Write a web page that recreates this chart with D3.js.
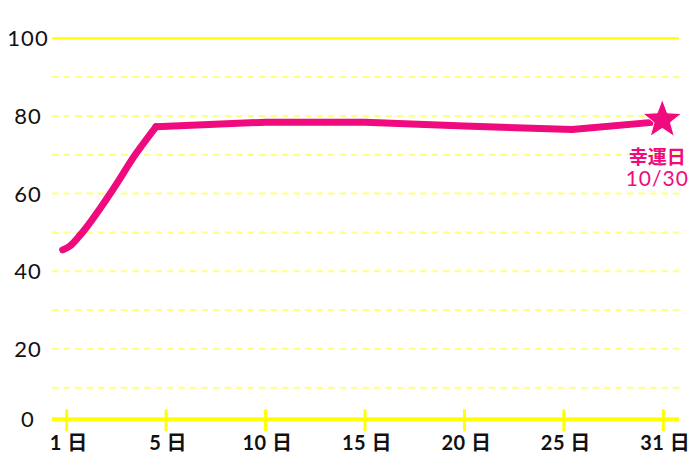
<!DOCTYPE html>
<html><head><meta charset="utf-8">
<script src="https://cdn.jsdelivr.net/npm/d3@7"></script>
<style>body{margin:0;background:#fff}svg{display:block}</style>
</head><body>
<script>
// data
const yTicks = [0,10,20,30,40,50,60,70,80,90,100];
const yLabels = [0,20,40,60,80,100];
const xTickDays = [1,5,10,15,20,25,31];
const xTickLabels = ["1 日","5 日","10 日","15 日","20 日","25 日","31 日"];
const riseDays   = [0.84, 1.13, 1.54, 2.78, 3.79, 4.59];
const riseValues = [45.5, 46.5, 49.3, 60.3, 70.3, 77.2];
const flatDays   = [4.59, 10, 15, 20, 25.5, 31];
const flatValues = [77.2, 78.4, 78.4, 77.4, 76.5, 78.6];
const luckyDay = 31, luckyValue = 79, luckyLabel = ["幸運日","10/30"];

const W=700,H=467;
const pink="#ef0a7d";
const svg=d3.select("body").append("svg").attr("width",W).attr("height",H);
const x=d3.scaleLinear().domain(xTickDays).range(xTickDays.map((d,i)=>66.7+i*99.43));
const y=d3.scaleLinear().domain([0,100]).range([426.5,38.3]);
const axisY = y(0)-7.2;
const font="Lato,'Noto Sans CJK JP',sans-serif";

// gridlines
svg.append("g").selectAll("line").data(yTicks.filter(d=>d>0)).join("line")
  .attr("x1",52).attr("x2",d=>d===100?679:681)
  .attr("y1",d=>y(d)).attr("y2",d=>y(d))
  .attr("stroke",d=>d===100?"#ffff00":"#ffff80")
  .attr("stroke-width",2)
  .attr("stroke-dasharray",d=>d===100?null:"6.5,5");

// x axis
svg.append("line").attr("x1",52).attr("x2",679).attr("y1",axisY).attr("y2",axisY)
  .attr("stroke","#ffff00").attr("stroke-width",4);
svg.append("g").selectAll("line").data(xTickDays).join("line")
  .attr("x1",d=>x(d)).attr("x2",d=>x(d)).attr("y1",axisY-10).attr("y2",axisY+12)
  .attr("stroke","#ffff00").attr("stroke-width",3);
svg.append("g").selectAll("text").data(xTickDays).join("text")
  .attr("x",(d,i)=>x(d)+2).attr("y",axisY+31)
  .attr("text-anchor","middle").attr("font-family",font).attr("font-size",20).attr("font-weight",700)
  .attr("letter-spacing",0.5)
  .attr("fill","#111").text((d,i)=>xTickLabels[i]);

// y labels
svg.append("g").selectAll("text").data(yLabels).join("text")
  .attr("x",28).attr("y",d=>d===0?axisY:y(d)).attr("dy","0.36em")
  .attr("text-anchor","middle").attr("font-family",font).attr("font-size",22)
  .attr("letter-spacing",1)
  .attr("fill","#111").text(d=>d);

// line
const lineStyle=p=>p.attr("fill","none").attr("stroke",pink).attr("stroke-width",7)
  .attr("stroke-linecap","round").attr("stroke-linejoin","round");
svg.append("path").datum(riseDays.map((d,i)=>[d,riseValues[i]]))
  .attr("d",d3.line().x(d=>x(d[0])).y(d=>y(d[1])).curve(d3.curveMonotoneX)).call(lineStyle);
svg.append("path").datum(flatDays.map((d,i)=>[d,flatValues[i]]))
  .attr("d",d3.line().x(d=>x(d[0])).y(d=>y(d[1]))).call(lineStyle);

// star
const R=20.5, r=R*0.42;
const starPts=d3.range(10).map(i=>{const a=-Math.PI/2+i*Math.PI/5;const rr=i%2?r:R;return [rr*Math.cos(a),rr*Math.sin(a)];});
svg.append("path").attr("d","M"+starPts.join("L")+"Z")
  .attr("transform",`translate(${x(luckyDay)-1},${y(luckyValue)})`)
  .attr("fill",pink).attr("stroke","#fff").attr("stroke-width",1);

svg.append("g").selectAll("text").data(luckyLabel).join("text")
  .attr("x",x(luckyDay)-6).attr("y",(d,i)=>y(luckyValue)+37+i*22)
  .attr("dy","0.36em").attr("text-anchor","middle").attr("font-family",font)
  .attr("font-size",(d,i)=>i?21:19).attr("font-weight",(d,i)=>i?400:700)
  .attr("letter-spacing",(d,i)=>i?1:0).attr("fill",pink).text(d=>d);
</script>
</body></html>
